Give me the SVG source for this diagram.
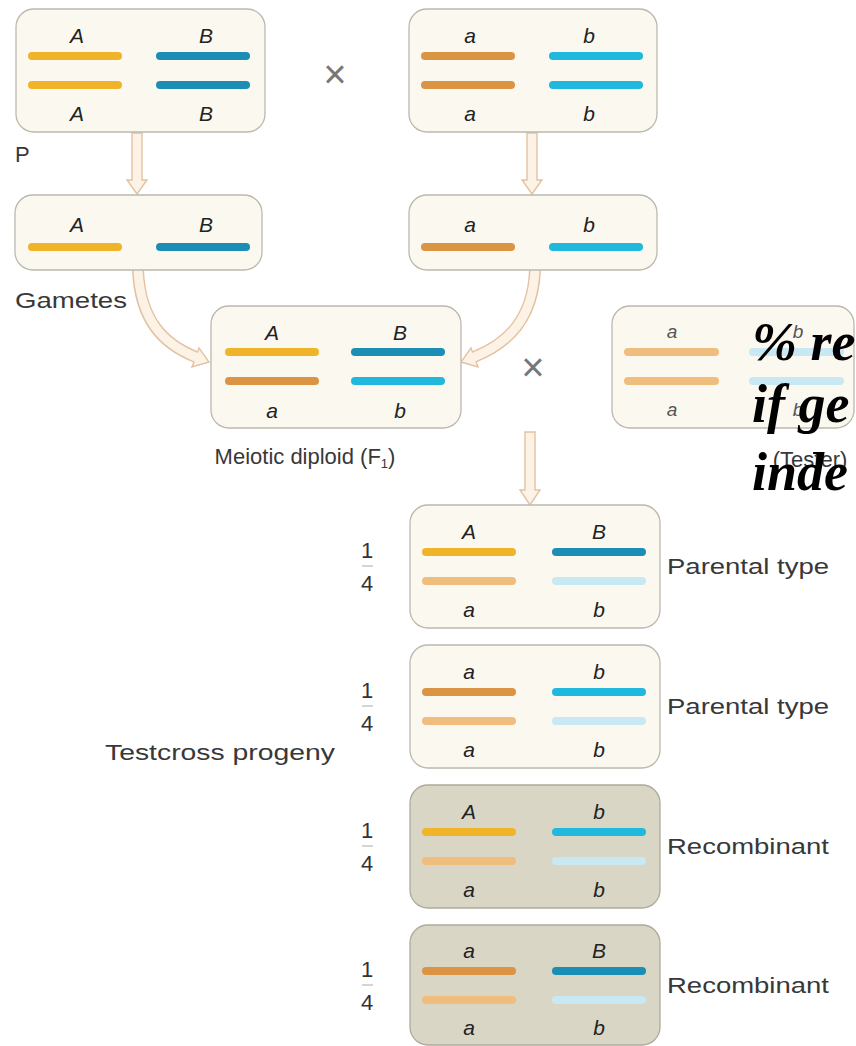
<svg xmlns="http://www.w3.org/2000/svg" width="856" height="1046" viewBox="0 0 856 1046">
<defs>
<style>
.box{fill:#fbf8f0;stroke:#bcb8ae;stroke-width:1.3}
.rbox{fill:#d9d6c6;stroke:#aeaa9c;stroke-width:1.3}
.ch{stroke-width:8;stroke-linecap:round;fill:none}
.Y{stroke:#efb42a}.DB{stroke:#1c8db4}.O{stroke:#da9443}.C{stroke:#21b8de}.LO{stroke:#efbd7d}.LB{stroke:#c8e8f3}
.al{font-family:"Liberation Sans",Arial,sans-serif;font-style:italic;font-size:21px;fill:#222;text-anchor:middle}
.tl{font-family:"Liberation Sans",Arial,sans-serif;font-style:italic;font-size:19px;fill:#555;text-anchor:middle}
.lab{font-family:"Liberation Sans",Arial,sans-serif;font-size:22px;fill:#383838}
.fr{font-family:"Liberation Sans",Arial,sans-serif;font-size:22px;fill:#333;text-anchor:middle}
.x{font-family:"Liberation Sans",Arial,sans-serif;font-size:40px;fill:#777;text-anchor:middle}
.arr{fill:#fdf2e6;stroke:#e3c2a2;stroke-width:1.4;stroke-linejoin:miter}
.cout{fill:none;stroke:#e3c2a2;stroke-width:12}
.cin{fill:none;stroke:#fdf2e6;stroke-width:9}
.ov{font-family:"Liberation Serif","Times New Roman",serif;font-weight:bold;font-style:italic;font-size:54px;fill:#000}
</style>
</defs>

<g id="connectors">
  <path class="arr" d="M132,133 L132,180 L127,180 L137,194 L147,180 L142,180 L142,133 Z"/>
  <path class="arr" d="M527,133 L527,180 L522,180 L532,194 L542,180 L537,180 L537,133 Z"/>
  <path class="arr" d="M525,432 L525,490 L520,490 L530,505 L540,490 L535,490 L535,432 Z"/>
  <path class="cout" d="M138,270 C140,320 163,344 196,357"/>
  <polygon class="arr" points="209,362 192,367 199,348"/>
  <path class="cin" d="M138,269 C140,320 163,344 197,357.5"/>
  <path class="cout" d="M535,270 C533,320 507,344 474,357"/>
  <polygon class="arr" points="461,362 478,367 471,348"/>
  <path class="cin" d="M535,269 C533,320 507,344 473,357.5"/>
</g>

<g id="p1" transform="translate(16,9)">
  <rect class="box" x="0" y="0" width="249" height="123" rx="18"/>
  <line class="ch Y" x1="16" y1="47" x2="102" y2="47"/><line class="ch DB" x1="144" y1="47" x2="230" y2="47"/>
  <line class="ch Y" x1="16" y1="76" x2="102" y2="76"/><line class="ch DB" x1="144" y1="76" x2="230" y2="76"/>
  <text class="al" x="61" y="34">A</text><text class="al" x="190" y="34">B</text>
  <text class="al" x="61" y="112">A</text><text class="al" x="190" y="112">B</text>
</g>
<text id="cross1" class="x" x="335" y="88">×</text>
<g id="p2" transform="translate(409,9)">
  <rect class="box" x="0" y="0" width="248" height="123" rx="18"/>
  <line class="ch O" x1="16" y1="47" x2="102" y2="47"/><line class="ch C" x1="144" y1="47" x2="230" y2="47"/>
  <line class="ch O" x1="16" y1="76" x2="102" y2="76"/><line class="ch C" x1="144" y1="76" x2="230" y2="76"/>
  <text class="al" x="61" y="34">a</text><text class="al" x="180" y="34">b</text>
  <text class="al" x="61" y="112">a</text><text class="al" x="180" y="112">b</text>
</g>
<text id="lblP" class="lab" x="15" y="162" font-size="24">P</text>

<g id="g1" transform="translate(15,195)">
  <rect class="box" x="0" y="0" width="247" height="75" rx="18"/>
  <line class="ch Y" x1="17" y1="52" x2="103" y2="52"/><line class="ch DB" x1="145" y1="52" x2="231" y2="52"/>
  <text class="al" x="62" y="37">A</text><text class="al" x="191" y="37">B</text>
</g>
<g id="g2" transform="translate(409,195)">
  <rect class="box" x="0" y="0" width="248" height="75" rx="18"/>
  <line class="ch O" x1="16" y1="52" x2="102" y2="52"/><line class="ch C" x1="144" y1="52" x2="230" y2="52"/>
  <text class="al" x="61" y="37">a</text><text class="al" x="180" y="37">b</text>
</g>
<text id="lblGametes" class="lab" x="15" y="308" textLength="112" lengthAdjust="spacingAndGlyphs">Gametes</text>

<g id="f1" transform="translate(211,306)">
  <rect class="box" x="0" y="0" width="250" height="122" rx="18"/>
  <line class="ch Y" x1="18" y1="46" x2="104" y2="46"/><line class="ch DB" x1="144" y1="46" x2="230" y2="46"/>
  <line class="ch O" x1="18" y1="75" x2="104" y2="75"/><line class="ch C" x1="144" y1="75" x2="230" y2="75"/>
  <text class="al" x="61" y="34">A</text><text class="al" x="189" y="34">B</text>
  <text class="al" x="61" y="112">a</text><text class="al" x="189" y="112">b</text>
</g>
<text id="lblF1" class="lab" x="305" y="464" text-anchor="middle" font-size="20" fill="#444">Meiotic diploid (F<tspan font-size="13" dy="4">1</tspan><tspan dy="-4">)</tspan></text>
<text id="cross2" class="x" x="533" y="381">×</text>

<g id="tester" transform="translate(612,306)">
  <rect class="box" x="0" y="0" width="242" height="122" rx="18"/>
  <line class="ch LO" x1="16" y1="46" x2="103" y2="46"/><line class="ch LB" x1="141" y1="46" x2="228" y2="46"/>
  <line class="ch LO" x1="16" y1="75" x2="103" y2="75"/><line class="ch LB" x1="141" y1="75" x2="228" y2="75"/>
  <text class="tl" x="60" y="32">a</text><text class="tl" x="186" y="32">b</text>
  <text class="tl" x="60" y="110">a</text><text class="tl" x="186" y="110">b</text>
</g>
<text id="lblTester" class="lab" x="810" y="467" text-anchor="middle" font-size="18" fill="#666">(Tester)</text>

<g id="prog1" transform="translate(410,505)">
  <rect class="box" x="0" y="0" width="250" height="123" rx="18"/>
  <line class="ch Y" x1="16" y1="47" x2="102" y2="47"/><line class="ch DB" x1="146" y1="47" x2="232" y2="47"/>
  <line class="ch LO" x1="16" y1="76" x2="102" y2="76"/><line class="ch LB" x1="146" y1="76" x2="232" y2="76"/>
  <text class="al" x="59" y="34">A</text><text class="al" x="189" y="34">B</text>
  <text class="al" x="59" y="112">a</text><text class="al" x="189" y="112">b</text>
</g>
<g id="prog2" transform="translate(410,645)">
  <rect class="box" x="0" y="0" width="250" height="123" rx="18"/>
  <line class="ch O" x1="16" y1="47" x2="102" y2="47"/><line class="ch C" x1="146" y1="47" x2="232" y2="47"/>
  <line class="ch LO" x1="16" y1="76" x2="102" y2="76"/><line class="ch LB" x1="146" y1="76" x2="232" y2="76"/>
  <text class="al" x="59" y="34">a</text><text class="al" x="189" y="34">b</text>
  <text class="al" x="59" y="112">a</text><text class="al" x="189" y="112">b</text>
</g>
<g id="prog3" transform="translate(410,785)">
  <rect class="rbox" x="0" y="0" width="250" height="123" rx="18"/>
  <line class="ch Y" x1="16" y1="47" x2="102" y2="47"/><line class="ch C" x1="146" y1="47" x2="232" y2="47"/>
  <line class="ch LO" x1="16" y1="76" x2="102" y2="76"/><line class="ch LB" x1="146" y1="76" x2="232" y2="76"/>
  <text class="al" x="59" y="34">A</text><text class="al" x="189" y="34">b</text>
  <text class="al" x="59" y="112">a</text><text class="al" x="189" y="112">b</text>
</g>
<g id="prog4" transform="translate(410,925)">
  <rect class="rbox" x="0" y="0" width="250" height="120" rx="18"/>
  <line class="ch O" x1="16" y1="46" x2="102" y2="46"/><line class="ch DB" x1="146" y1="46" x2="232" y2="46"/>
  <line class="ch LO" x1="16" y1="75" x2="102" y2="75"/><line class="ch LB" x1="146" y1="75" x2="232" y2="75"/>
  <text class="al" x="59" y="33">a</text><text class="al" x="189" y="33">B</text>
  <text class="al" x="59" y="110">a</text><text class="al" x="189" y="110">b</text>
</g>

<g id="fractions">
  <text class="fr" x="367" y="558">1</text><line x1="362" y1="566" x2="373" y2="566" stroke="#aaa" stroke-width="1"/><text class="fr" x="367" y="591">4</text>
  <text class="fr" x="367" y="698">1</text><line x1="362" y1="706" x2="373" y2="706" stroke="#aaa" stroke-width="1"/><text class="fr" x="367" y="731">4</text>
  <text class="fr" x="367" y="838">1</text><line x1="362" y1="846" x2="373" y2="846" stroke="#aaa" stroke-width="1"/><text class="fr" x="367" y="871">4</text>
  <text class="fr" x="367" y="977">1</text><line x1="362" y1="985" x2="373" y2="985" stroke="#aaa" stroke-width="1"/><text class="fr" x="367" y="1010">4</text>
</g>

<text id="lbl1" class="lab" x="667" y="574" textLength="162" lengthAdjust="spacingAndGlyphs">Parental type</text>
<text id="lbl2" class="lab" x="667" y="714" textLength="162" lengthAdjust="spacingAndGlyphs">Parental type</text>
<text id="lbl3" class="lab" x="667" y="854" textLength="162" lengthAdjust="spacingAndGlyphs">Recombinant</text>
<text id="lbl4" class="lab" x="667" y="993" textLength="162" lengthAdjust="spacingAndGlyphs">Recombinant</text>
<text id="lblTest" class="lab" x="105" y="760" textLength="230" lengthAdjust="spacingAndGlyphs">Testcross progeny</text>

<g id="overlay">
  <text class="ov" x="752" y="360">% re</text>
  <text class="ov" x="752" y="422">if ge</text>
  <text class="ov" x="752" y="490">inde</text>
</g>
</svg>
